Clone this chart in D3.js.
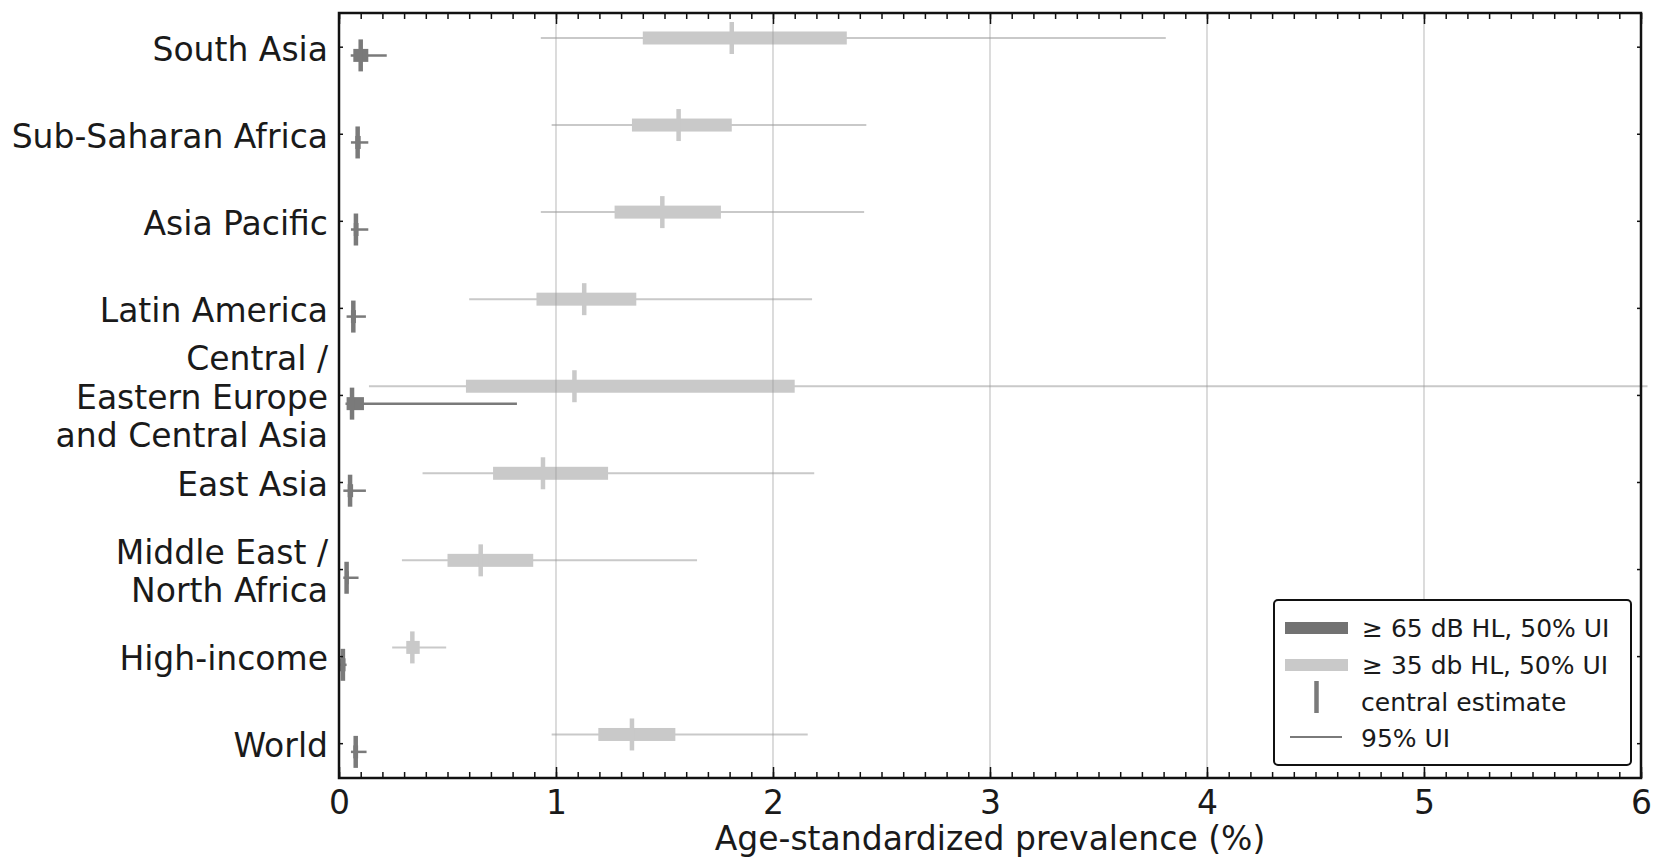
<!DOCTYPE html>
<html>
<head>
<meta charset="utf-8">
<script src="https://cdn.jsdelivr.net/npm/d3@7"></script>
<style>
  body { margin: 0; background: #fff; }
  text { font-family: "DejaVu Sans", sans-serif; fill: #1a1a1a; }
</style>
</head>
<body>
<script>
var regions = ["South Asia", "Sub-Saharan Africa", "Asia Pacific", "Latin America",
  "Central /\nEastern Europe\nand Central Asia", "East Asia",
  "Middle East /\nNorth Africa", "High-income", "World"];

// >= 35 dB HL
var mildCentral = [1.81, 1.565, 1.49, 1.13, 1.085, 0.94, 0.653, 0.338, 1.35];
var mildLo50 = [1.40, 1.35, 1.27, 0.91, 0.585, 0.71, 0.50, 0.31, 1.195];
var mildHi50 = [2.34, 1.81, 1.76, 1.37, 2.10, 1.24, 0.895, 0.372, 1.55];
var mildLo95 = [0.93, 0.98, 0.93, 0.60, 0.138, 0.385, 0.29, 0.245, 0.98];
var mildHi95 = [3.81, 2.43, 2.42, 2.18, 6.03, 2.19, 1.65, 0.494, 2.16];

// >= 65 dB HL
var sevCentral = [0.10, 0.086, 0.078, 0.066, 0.06, 0.051, 0.035, 0.018, 0.077];
var sevLo50 = [0.066, 0.075, 0.068, 0.055, 0.035, 0.04, 0.028, 0.005, 0.066];
var sevHi50 = [0.135, 0.10, 0.09, 0.078, 0.115, 0.065, 0.045, 0.03, 0.088];
var sevLo95 = [0.054, 0.055, 0.055, 0.035, 0.03, 0.02, 0.02, 0.003, 0.055];
var sevHi95 = [0.22, 0.135, 0.135, 0.124, 0.82, 0.124, 0.09, 0.035, 0.127];

var xTicks = [0, 1, 2, 3, 4, 5, 6];
var legendLabels = ["\u2265 65 dB HL, 50% UI", "\u2265 35 db HL, 50% UI", "central estimate", "95% UI"];

var width = 1657;
var height = 859;
var plotLeft = 339, plotRight = 1641, plotTop = 13, plotBottom = 778;
var lightColor = "#c9c9c9";
var darkColor = "#7a7a7a";

var svg = d3.select("body")
  .append("svg")
  .attr("width", width)
  .attr("height", height);

var x = d3.scaleLinear().domain([0, 6]).range([plotLeft, plotRight]);
var y = d3.scaleLinear().domain([-0.387, 8.40]).range([plotTop, plotBottom]);

function buildSeries(central, lo50, hi50, lo95, hi95, offset, color) {
  return regions.map(function(r, i) {
    return { i: i, c: central[i], l50: lo50[i], h50: hi50[i], l95: lo95[i], h95: hi95[i],
      off: offset, color: color };
  });
}

var series = buildSeries(sevCentral, sevLo50, sevHi50, sevLo95, sevHi95, 0.1, darkColor)
  .concat(buildSeries(mildCentral, mildLo50, mildHi50, mildLo95, mildHi95, -0.1, lightColor));

function rowY(d) {
  return y(d.i + d.off);
}

// 95% UI lines
svg.append("g").selectAll("line")
  .data(series)
  .enter()
  .append("line")
  .attr("x1", function(d) { return x(d.l95); })
  .attr("x2", function(d) { return x(d.h95); })
  .attr("y1", rowY)
  .attr("y2", rowY)
  .attr("stroke", function(d) { return d.color; })
  .attr("stroke-width", function(d) { return d.color === darkColor ? 2.5 : 2; });

// 50% UI bars
svg.append("g").selectAll("rect")
  .data(series)
  .enter()
  .append("rect")
  .attr("x", function(d) { return x(d.l50); })
  .attr("width", function(d) { return x(d.h50) - x(d.l50); })
  .attr("y", function(d) { return rowY(d) - 6.5; })
  .attr("height", 13)
  .attr("fill", function(d) { return d.color; });

// central estimates
svg.append("g").selectAll("line")
  .data(series)
  .enter()
  .append("line")
  .attr("x1", function(d) { return x(d.c); })
  .attr("x2", function(d) { return x(d.c); })
  .attr("y1", function(d) { return rowY(d) - 16; })
  .attr("y2", function(d) { return rowY(d) + 16; })
  .attr("stroke", function(d) { return d.color; })
  .attr("stroke-width", 4.5);

// grid lines
svg.append("g").selectAll("line")
  .data(xTicks.slice(1, 6))
  .enter()
  .append("line")
  .attr("x1", x)
  .attr("x2", x)
  .attr("y1", plotTop)
  .attr("y2", plotBottom)
  .attr("stroke", "#9a9a9a")
  .attr("stroke-opacity", 0.55)
  .attr("stroke-width", 1.3);

// x axes, ticks pointing in
var minorTicks = d3.range(0, 61).map(function(v) { return v / 10; });

svg.append("g")
  .attr("transform", "translate(0," + plotBottom + ")")
  .call(d3.axisBottom(x).tickValues(minorTicks).tickSize(-6).tickFormat(""));
svg.append("g")
  .attr("transform", "translate(0," + plotBottom + ")")
  .call(d3.axisBottom(x).tickValues(xTicks).tickSize(-11).tickPadding(13).tickFormat(d3.format("d")));
svg.append("g")
  .attr("transform", "translate(0," + plotTop + ")")
  .call(d3.axisTop(x).tickValues(minorTicks).tickSize(-6).tickFormat(""));
svg.append("g")
  .attr("transform", "translate(0," + plotTop + ")")
  .call(d3.axisTop(x).tickValues(xTicks).tickSize(-11).tickFormat(""));

// y ticks on both sides
var catIndex = d3.range(regions.length);
svg.append("g")
  .attr("transform", "translate(" + plotLeft + ",0)")
  .call(d3.axisLeft(y).tickValues(catIndex).tickSize(-4).tickFormat(""));
svg.append("g")
  .attr("transform", "translate(" + plotRight + ",0)")
  .call(d3.axisRight(y).tickValues(catIndex).tickSize(-4).tickFormat(""));

svg.selectAll(".domain").remove();
svg.selectAll(".tick line").attr("stroke", "#111").attr("stroke-width", 1.5);
svg.selectAll(".tick text")
  .style("font-family", "DejaVu Sans")
  .style("font-size", "33px")
  .attr("fill", "#1a1a1a");

// frame
svg.append("rect")
  .attr("x", plotLeft)
  .attr("y", plotTop)
  .attr("width", plotRight - plotLeft)
  .attr("height", plotBottom - plotTop)
  .attr("fill", "none")
  .attr("stroke", "#111")
  .attr("stroke-width", 2.5);

// category labels
var labels = svg.append("g").selectAll("text")
  .data(regions)
  .enter()
  .append("text")
  .attr("text-anchor", "end")
  .style("font-size", "33px");

labels.each(function(d, i) {
  var lines = d.split("\n");
  var t = d3.select(this);
  lines.forEach(function(line, k) {
    t.append("tspan")
      .attr("x", plotLeft - 11)
      .attr("y", y(i) + 14 + (k - (lines.length - 1) / 2) * 38.5)
      .text(line);
  });
});

svg.append("text")
  .attr("x", (plotLeft + plotRight) / 2)
  .attr("y", 850)
  .attr("text-anchor", "middle")
  .style("font-size", "33px")
  .text("Age-standardized prevalence (%)");

// legend
var legend = svg.append("g");
legend.append("rect")
  .attr("x", 1274)
  .attr("y", 600)
  .attr("width", 357)
  .attr("height", 165)
  .attr("rx", 4)
  .attr("fill", "#fff")
  .attr("stroke", "#111")
  .attr("stroke-width", 2);

legend.append("rect")
  .attr("x", 1285).attr("y", 622).attr("width", 63).attr("height", 12)
  .attr("fill", "#727272");
legend.append("rect")
  .attr("x", 1285).attr("y", 659).attr("width", 63).attr("height", 12)
  .attr("fill", lightColor);
legend.append("line")
  .attr("x1", 1316.5).attr("x2", 1316.5).attr("y1", 681).attr("y2", 713)
  .attr("stroke", darkColor).attr("stroke-width", 4.5);
legend.append("line")
  .attr("x1", 1290).attr("x2", 1342).attr("y1", 737).attr("y2", 737)
  .attr("stroke", darkColor).attr("stroke-width", 2);

var legendX = [1362, 1362, 1361, 1361];
var legendY = [637, 674, 711, 747];
legend.selectAll("text")
  .data(legendLabels)
  .enter()
  .append("text")
  .attr("x", function(d, i) { return legendX[i]; })
  .attr("y", function(d, i) { return legendY[i]; })
  .style("font-size", "25px")
  .text(function(d) { return d; });
</script>
</body>
</html>
